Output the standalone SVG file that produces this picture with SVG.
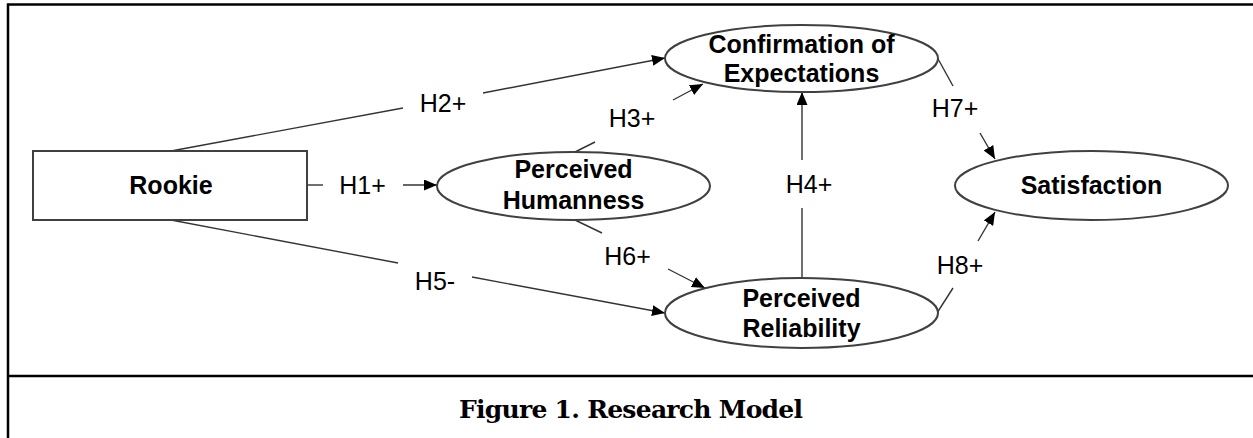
<svg xmlns="http://www.w3.org/2000/svg" width="1253" height="438" viewBox="0 0 1253 438">
<defs>
<style>
.frame{fill:none;stroke:#000;stroke-width:2.5}
.node{fill:#fff;stroke:#404040;stroke-width:2}
.nt{font-family:"Liberation Sans",Arial,sans-serif;font-weight:bold;font-size:25px;fill:#000;text-anchor:middle}
.lbl{font-family:"Liberation Sans",Arial,sans-serif;font-size:25px;fill:#000;text-anchor:middle}
.ln{fill:none;stroke:#333;stroke-width:1.4}
.cap{font-family:"DejaVu Serif","Liberation Serif",serif;font-weight:bold;font-size:25px;fill:#000;text-anchor:middle}
</style>
<marker id="ah" markerUnits="userSpaceOnUse" markerWidth="13" markerHeight="11" refX="13" refY="5.5" orient="auto">
<path d="M0,0 L13,5.5 L0,11 z" fill="#000"/>
</marker>
</defs>
<rect width="1253" height="438" fill="#fff"/>
<g id="frame">
<path class="frame" d="M8,438 V4.5 H1253"/>
<path class="frame" d="M8,376 H1253"/>
</g>
<g id="connectors">
<path class="ln" d="M307,185 H323"/>
<path class="ln" d="M403,185 H437" marker-end="url(#ah)"/>
<path class="ln" d="M171,151 L403,108"/>
<path class="ln" d="M483,93 L665,58" marker-end="url(#ah)"/>
<path class="ln" d="M575,152 L595,142"/>
<path class="ln" d="M673,100 L703,84" marker-end="url(#ah)"/>
<path class="ln" d="M171,220 L398,263"/>
<path class="ln" d="M472,277 L665,313" marker-end="url(#ah)"/>
<path class="ln" d="M575,220 L602,233"/>
<path class="ln" d="M668,269 L705,288" marker-end="url(#ah)"/>
<path class="ln" d="M802,278 V208"/>
<path class="ln" d="M802,160 V92" marker-end="url(#ah)"/>
<path class="ln" d="M937,57 L953,86"/>
<path class="ln" d="M980,133 L995,159" marker-end="url(#ah)"/>
<path class="ln" d="M937,313 L953,288"/>
<path class="ln" d="M978,241 L995,212" marker-end="url(#ah)"/>
<text class="lbl" x="362.5" y="194">H1+</text>
<text class="lbl" x="443" y="112">H2+</text>
<text class="lbl" x="632" y="127">H3+</text>
<text class="lbl" x="809" y="193">H4+</text>
<text class="lbl" x="435" y="290">H5-</text>
<text class="lbl" x="627.5" y="265">H6+</text>
<text class="lbl" x="955" y="117">H7+</text>
<text class="lbl" x="960" y="274">H8+</text>
</g>
<g id="rookie">
<rect class="node" x="33" y="151" width="274" height="69"/>
<text class="nt" x="171" y="194">Rookie</text>
</g>
<g id="humanness">
<ellipse class="node" cx="573.5" cy="186" rx="136.5" ry="34"/>
<text class="nt" x="573.5" y="178">Perceived</text>
<text class="nt" x="573.5" y="209">Humanness</text>
</g>
<g id="confirmation">
<ellipse class="node" cx="801.5" cy="58.5" rx="136.5" ry="33.5"/>
<text class="nt" x="801.5" y="53">Confirmation of</text>
<text class="nt" x="801.5" y="82">Expectations</text>
</g>
<g id="reliability">
<ellipse class="node" cx="801.5" cy="313" rx="136.5" ry="35"/>
<text class="nt" x="801.5" y="307">Perceived</text>
<text class="nt" x="801.5" y="337">Reliability</text>
</g>
<g id="satisfaction">
<ellipse class="node" cx="1091.5" cy="185.5" rx="136.5" ry="34.5"/>
<text class="nt" x="1091.5" y="194">Satisfaction</text>
</g>
<text class="cap" x="631" y="418" textLength="344">Figure 1. Research Model</text>
</svg>
